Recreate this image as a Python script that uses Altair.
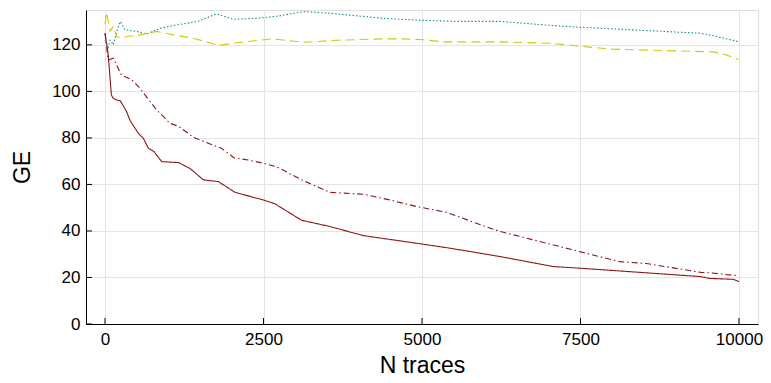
import altair as alt
import pandas as pd

# Series
solid_x = [0, 50, 100, 130, 185, 240, 340, 395, 525, 605, 685, 770, 895, 1160, 1345, 1550, 1790, 2050, 2500, 2680, 3100, 3550, 4075, 5020, 5440, 6230, 7070, 7490, 9385, 9540, 9910, 10000]
solid_y = [125, 116, 98.5, 97, 96.3, 96, 91.3, 87.5, 82, 79.8, 75.5, 74.2, 69.8, 69.4, 66.8, 62, 61.2, 56.6, 53.3, 51.7, 44.6, 41.9, 38, 34.3, 32.6, 29, 24.7, 24, 20.4, 19.6, 19.2, 18.2]

dashdot_x = [0, 50, 130, 260, 420, 550, 610, 815, 1025, 1160, 1400, 1600, 1840, 2040, 2260, 2500, 2700, 3130, 3550, 4075, 4500, 4915, 5390, 5970, 6230, 7490, 8120, 8540, 9400, 9540, 9960]
dashdot_y = [125, 113.5, 114.3, 107, 105, 101.4, 99.2, 92, 86.3, 85, 80.2, 78, 75.5, 71.4, 70.5, 69.1, 67.7, 61.6, 56.6, 55.8, 53.3, 50.5, 48, 42.2, 39.8, 31.1, 26.8, 26, 22.2, 22, 20.8]

dotted_x = [0, 50, 80, 130, 185, 240, 265, 315, 500, 660, 870, 1130, 1450, 1760, 2020, 2390, 2760, 3130, 3550, 4390, 4970, 5550, 6230, 7020, 7490, 9390, 9600, 9990]
dotted_y = [122, 119, 122, 120, 125.8, 130, 129, 126.5, 125.8, 124.7, 127.1, 128.6, 130, 133.3, 131, 131.4, 132.5, 134.3, 133.6, 131.4, 130.6, 130.1, 130.1, 128.4, 127.6, 125, 123.9, 121.4]

dashed_x = [0, 26, 80, 130, 185, 265, 340, 550, 815, 1080, 1390, 1790, 2130, 2650, 3130, 3650, 4390, 4700, 5020, 5340, 6230, 7020, 7280, 7970, 9600, 9800, 9990]
dashed_y = [129, 134, 125.8, 128, 123.6, 122.9, 123.6, 124.3, 125.8, 124.3, 122.9, 119.8, 121.1, 122.6, 121.1, 122, 122.6, 122.6, 122.2, 121.3, 121.3, 120.7, 120, 118.2, 117, 115.7, 113.8]

x_ticks = [0, 2500, 5000, 7500, 10000]
y_ticks = [0, 20, 40, 60, 80, 100, 120]

FONT = "Liberation Sans"
W, H = 672, 314

xscale = alt.Scale(domain=[-300, 10300], nice=False, zero=False)
yscale = alt.Scale(domain=[0, 135], nice=False, zero=False)

xaxis = alt.Axis(values=x_ticks, format="d", title="N traces", labelFontSize=17, titleFontSize=23,
                 titleFontWeight="normal", labelFont=FONT, titleFont=FONT, labelColor="black",
                 titleColor="black", domainColor="black", domainWidth=1, tickSize=0,
                 labelPadding=7, titlePadding=7, grid=True, gridColor="#e4e4e4", gridWidth=1,
                 labelFlush=False)
yaxis = alt.Axis(values=y_ticks, format="d", title="GE", labelFontSize=17, titleFontSize=23,
                 titleFontWeight="normal", labelFont=FONT, titleFont=FONT, labelColor="black",
                 titleColor="black", domainColor="black", domainWidth=1, tickSize=0,
                 labelPadding=6, titlePadding=17, grid=True, gridColor="#e4e4e4", gridWidth=1,
                 labelFlush=False)


def series(xs, ys, color, dash):
    df = pd.DataFrame({"x": xs, "y": ys})
    return alt.Chart(df).mark_line(color=color, strokeWidth=1.1, strokeDash=dash, clip=True).encode(
        x=alt.X("x:Q", scale=xscale, axis=xaxis),
        y=alt.Y("y:Q", scale=yscale, axis=yaxis),
    )


l_solid = series(solid_x, solid_y, "#8e1515", [1, 0])
l_dashdot = series(dashdot_x, dashdot_y, "#8e1515", [6, 3, 1.5, 3])
l_dotted = series(dotted_x, dotted_y, "#128f8f", [1.5, 2])
l_dashed = series(dashed_x, dashed_y, "#d2cb0c", [9, 5])

ytick_df = pd.DataFrame({"v": y_ticks})
xtick_df = pd.DataFrame({"v": x_ticks})
yt = alt.Chart(ytick_df).mark_rule(color="black", strokeWidth=1).encode(
    y=alt.Y("v:Q", scale=yscale), x=alt.value(0), x2=alt.value(6))
xt = alt.Chart(xtick_df).mark_rule(color="black", strokeWidth=1).encode(
    x=alt.X("v:Q", scale=xscale), y=alt.value(H), y2=alt.value(H - 6))

chart = alt.layer(l_solid, l_dashdot, l_dotted, l_dashed, yt, xt).properties(
    width=W, height=H,
    autosize=alt.AutoSizeParams(type="none"),
    padding={"left": 78, "top": 2, "right": 5, "bottom": 57},
).configure_view(stroke=None).configure(background="white")

chart.save("out.html", embed_options={"renderer": "svg", "actions": False})
